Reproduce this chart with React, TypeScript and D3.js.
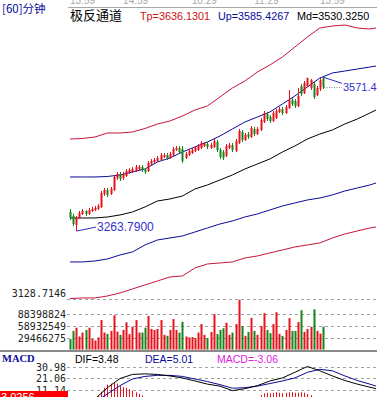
import React from "react";
import * as d3 from "d3";

const W = 377;
const H = 397;

const timeLabels = ["13:59", "14:59", "10:29", "11:29", "13:59"];
const timeLabelIdx = [0, 17, 39, 59, 80];

const opens = [3302,3294,3276,3290,3298,3304,3298,3304,3306,3308,3312,3338,3346,3338,3346,3370,3378,3370,3374,3382,3382,3384,3388,3392,3386,3384,3398,3402,3404,3406,3412,3416,3410,3416,3426,3430,3428,3410,3416,3420,3424,3426,3430,3434,3438,3430,3432,3442,3426,3422,3414,3430,3436,3424,3440,3462,3446,3458,3452,3468,3458,3466,3482,3498,3492,3484,3490,3502,3508,3500,3510,3526,3524,3514,3554,3540,3554,3550,3558,3536,3548,3570];
const closes = [3290,3278,3290,3300,3304,3298,3306,3308,3310,3314,3340,3346,3336,3348,3372,3378,3368,3378,3384,3386,3388,3392,3392,3386,3382,3400,3404,3406,3410,3416,3416,3410,3418,3428,3430,3422,3404,3418,3424,3426,3430,3434,3440,3438,3432,3436,3444,3426,3412,3410,3434,3436,3426,3444,3464,3446,3456,3452,3470,3458,3468,3486,3500,3488,3484,3500,3504,3508,3500,3512,3526,3518,3514,3534,3538,3560,3570,3566,3532,3550,3566,3552];
const highs = [3308,3298,3294,3304,3308,3306,3310,3312,3314,3318,3344,3350,3350,3352,3376,3382,3382,3382,3388,3390,3392,3396,3396,3396,3390,3404,3408,3410,3414,3420,3420,3420,3422,3432,3434,3434,3434,3422,3428,3430,3434,3438,3444,3442,3442,3440,3448,3446,3430,3426,3438,3440,3440,3448,3468,3466,3460,3462,3474,3472,3472,3490,3504,3502,3496,3504,3508,3512,3512,3516,3546,3530,3528,3550,3558,3564,3571,3568,3562,3554,3570,3571.4];
const lows = [3286,3274,3263.79,3288,3296,3294,3296,3302,3304,3306,3310,3334,3332,3336,3344,3366,3364,3366,3372,3378,3380,3382,3386,3382,3378,3382,3396,3400,3402,3404,3410,3406,3408,3414,3424,3420,3400,3408,3414,3418,3422,3424,3428,3432,3428,3428,3430,3422,3408,3406,3412,3428,3422,3422,3438,3442,3444,3448,3450,3454,3456,3464,3480,3484,3480,3482,3488,3500,3496,3498,3508,3514,3510,3512,3534,3538,3552,3546,3528,3534,3544,3548];
const volumes = [26.3e6,46.7e6,54.8e6,32.7e6,42.5e6,49.1e6,54.8e6,27.0e6,22.8e6,30.2e6,73.7e6,42.5e6,39.3e6,46.7e6,85.9e6,44.9e6,36.8e6,49.1e6,68.0e6,38.6e6,57.2e6,73.7e6,42.5e6,42.5e6,54.8e6,84.2e6,51.6e6,49.1e6,51.6e6,73.7e6,36.8e6,34.4e6,49.1e6,76.1e6,49.1e6,42.5e6,69.5e6,32.7e6,30.2e6,31.2e6,28.7e6,42.5e6,63.8e6,36.8e6,28.7e6,44.2e6,88.4e6,38.6e6,49.1e6,53.3e6,67.0e6,36.8e6,42.5e6,63.8e6,124.5e6,58.9e6,34.4e6,44.2e6,79.3e6,46.7e6,36.8e6,58.9e6,90.9e6,49.1e6,41.0e6,63.8e6,93.3e6,39.3e6,34.4e6,49.1e6,78.6e6,46.7e6,46.7e6,68.8e6,98.2e6,44.2e6,51.6e6,57.2e6,100.7e6,46.7e6,40.0e6,57.2e6];

const bandIdx = [0,4,8,12,16,20,24,28,32,36,40,44,48,52,56,60,64,68,72,76,80,84,88,92,96,98];
const tpLine = [3448,3449,3452,3460,3460,3462,3469,3478,3484,3494,3506,3514,3532,3550,3564,3582,3596,3612,3632,3652,3670,3674,3676,3670,3668,3670];
const upLine = [3372,3372,3372,3373,3376,3382,3388,3402,3410,3422,3432,3442,3454,3468,3482,3492,3502,3518,3534,3552,3570,3580,3584,3588,3592,3594];
const mdLine = [3290,3290,3290,3292,3296,3302,3312,3324,3328,3334,3348,3356,3366,3376,3388,3398,3408,3422,3434,3448,3458,3466,3478,3488,3500,3506];
const dnLine = [3202,3202,3204,3208,3216,3222,3236,3246,3250,3254,3262,3270,3278,3284,3292,3298,3306,3314,3320,3326,3330,3336,3344,3350,3356,3360];
const btLine = [3128.71,3130,3130,3134,3140,3148,3156,3164,3172,3174,3190,3198,3200,3202,3210,3214,3220,3226,3232,3236,3240,3250,3258,3264,3270,3272];

const difLine = [-6.3,-2.0,3.3,12.9,20.7,24.2,24.7,24.2,22.9,21.2,18.6,15.9,14.2,10.3,12.0,14.6,18.6,21.2,26.0,31.0,27.3,22.9,19.0,15.9,13.3,12.0];
const deaLine = [-8.1,-4.6,0.6,7.6,14.6,20.3,22.5,23.4,23.4,22.5,20.3,18.1,15.5,12.4,12.9,14.2,16.4,18.6,21.2,26.0,28.6,27.3,22.9,19.0,15.9,14.2];
const macdHist = [2,2,3,3,3,4,4,4,5,5.9,9.4,12.8,15.5,16.3,17.2,16.3,14.2,13.3,12.8,11.5,10.2,8.9,7.6,6.3,5.0,3.7,2.5,1.5,0.8,0.2,-1,-2,-3,-3,-4,-4,-4,-4,-3,-3,-3,-3,-2,-2,-2,-2,-2,-3,-3,-3,-3,-2,-2,-1,-1,-1,-1,-0.5,0.5,2,4,6.5,8,8.5,8,8.5,9,8.5,8,8.5,9,9,8.5,8.5,9,8.5,7.5,6.5,4,1,-2,-3,-4,-5,-5,-6,-6,-6,-6,-6,-6,-5,-5,-5,-5,-4,-4,-4,-4];

const volTicks = ["29466275", "58932549", "88398824"];
const macdTicks = ["11.14", "21.06", "30.98"];
const priceMinLabel = "3128.7146";
const lowLabel = "3263.7900";
const highLabel = "3571.40";
const headerTp = "Tp=3636.1301";
const headerUp = "Up=3585.4267";
const headerMd = "Md=3530.3250";
const macdHeader = ["DIF=3.48", "DEA=5.01", "MACD=-3.06"];
const cursorLabel = "3.0256";

const RED = "#e8121c";
const GREEN = "#15851a";
const NAVY = "#0a0a9a";
const BAND_RED = "#c8143c";
const SANS = "'Liberation Sans', Arial, sans-serif";
const MONO = "'DejaVu Sans Mono', monospace";
const CJK = "'Noto Sans CJK SC', sans-serif";

export default function App() {
  const x = d3.scaleLinear().domain([0, 81]).range([70, 323]);
  const yP = d3.scaleLinear().domain([3128.7146, 3571.4]).range([298.6, 77.3]);
  const yV = d3.scaleLinear().domain([0, 88398824]).range([349.6, 314.2]);
  const yM = d3.scaleLinear().domain([11.14, 30.98]).range([389.7, 366.5]);

  const bandPath = (vals: number[]) =>
    d3.line<number>().x((_, k) => x(bandIdx[k])).y((v) => yP(v))(vals) || "";
  const macdPath = (vals: number[]) =>
    d3.line<number>().x((_, k) => x(bandIdx[k])).y((v) => yM(v))(vals) || "";

  const lowI = d3.minIndex(lows);
  const highI = d3.maxIndex(highs);
  const lastI = closes.length - 1;
  const px = (i: number) => Math.round(x(i));

  const volY = [29466275, 58932549, 88398824];
  const macdY = [11.14, 21.06, 30.98];

  return (
    <svg width={W} height={H} style={{ position: "absolute", left: 0, top: 0, background: "#fff" }}>
      <rect x={0} y={0} width={W} height={H} fill="#fff" />
      {/* header */}
      <text x={2} y={13} fontSize={11.5} fontFamily={CJK} fill={NAVY}>[60]分钟</text>
      {timeLabels.map((t, k) => (
        <text key={k} x={x(timeLabelIdx[k])} y={4} fontSize={10} fontFamily={SANS} fill="#a8a8a8">{t}</text>
      ))}
      <line x1={68} x2={W} y1={7.5} y2={7.5} stroke="#a8a8a8" strokeWidth={1} />
      <text x={70} y={20} fontSize={13} fontFamily={CJK} fill="#000">极反通道</text>
      <text x={140} y={20} fontSize={10.8} fontFamily={SANS} fill="#d01010">{headerTp}</text>
      <text x={218} y={20} fontSize={10.8} fontFamily={SANS} fill={NAVY}>{headerUp}</text>
      <text x={297} y={20} fontSize={10.8} fontFamily={SANS} fill="#000">{headerMd}</text>

      {/* axis labels and dashed grid */}
      <text x={66} y={297} fontSize={10} fontFamily={MONO} fill="#222" textAnchor="end">{priceMinLabel}</text>
      <line x1={67} x2={W} y1={299.5} y2={299.5} stroke="#a0a0a0" strokeDasharray="3,3" />
      {volY.map((v, k) => (
        <g key={k}>
          <line x1={67} x2={W} y1={Math.round(yV(v)) + 0.5} y2={Math.round(yV(v)) + 0.5} stroke="#a0a0a0" strokeDasharray="3,3" />
          <text x={66} y={yV(v) + 4} fontSize={10} fontFamily={MONO} fill="#222" textAnchor="end">{volTicks[k]}</text>
        </g>
      ))}

      {/* bands */}
      <path d={bandPath(btLine)} fill="none" stroke={BAND_RED} strokeWidth={1} />
      <path d={bandPath(dnLine)} fill="none" stroke={NAVY} strokeWidth={1} />
      <path d={bandPath(mdLine)} fill="none" stroke="#000" strokeWidth={1} />
      <path d={bandPath(upLine)} fill="none" stroke={NAVY} strokeWidth={1} />
      <path d={bandPath(tpLine)} fill="none" stroke={BAND_RED} strokeWidth={1} />

      {/* candles */}
      {opens.map((o, i) => {
        const c = closes[i];
        const up = c >= o;
        const col = up ? RED : GREEN;
        const cx = px(i);
        const top = Math.min(yP(o), yP(c));
        const bh = Math.max(1, Math.abs(yP(o) - yP(c)));
        return (
          <g key={i}>
            <rect x={cx} y={yP(highs[i])} width={1} height={yP(lows[i]) - yP(highs[i])} fill={col} />
            <rect x={cx - 0.5} y={top} width={2} height={bh} fill={col} />
          </g>
        );
      })}

      {/* low / high markers */}
      <line x1={px(lowI) + 0.5} y1={yP(lows[lowI])} x2={96} y2={yP(lows[lowI]) - 4} stroke="#3030c0" />
      <text x={97} y={yP(lows[lowI])} fontSize={12} fontFamily={SANS} fill="#3333cc">{lowLabel}</text>
      <line x1={px(lastI) + 1} x2={342} y1={Math.round(yP(closes[lastI])) + 0.5} y2={Math.round(yP(closes[lastI])) + 0.5} stroke="#888" strokeDasharray="1,1.5" />
      <line x1={px(highI) + 0.5} y1={yP(highs[highI])} x2={342} y2={yP(highs[highI]) + 6} stroke="#3030c0" />
      <text x={343} y={yP(closes[lastI]) + 4.5} fontSize={11} fontFamily={SANS} fill="#3333cc">{highLabel}</text>

      {/* volume bars */}
      {volumes.map((v, i) => (
        <rect key={i} x={px(i) - 0.5} y={yV(v)} width={2} height={yV(0) - yV(v)} fill={closes[i] >= opens[i] ? RED : GREEN} />
      ))}

      {/* separator */}
      <rect x={0} y={350} width={W} height={2} fill="#8a8a8a" />

      {/* MACD panel */}
      <text x={2} y={362} fontSize={10.5} fontWeight="bold" fontFamily="'Liberation Serif', serif" fill={NAVY}>MACD</text>
      <text x={75} y={363} fontSize={10.5} fontFamily={SANS} fill="#000">{macdHeader[0]}</text>
      <text x={145} y={363} fontSize={10.5} fontFamily={SANS} fill={NAVY}>{macdHeader[1]}</text>
      <text x={217} y={363} fontSize={10.5} fontFamily={SANS} fill="#e020e0">{macdHeader[2]}</text>
      {macdY.map((v, k) => (
        <g key={k}>
          <line x1={67} x2={W} y1={Math.round(yM(v)) + 0.5} y2={Math.round(yM(v)) + 0.5} stroke="#a0a0a0" strokeDasharray="3,3" />
          <text x={66} y={yM(v) + 4} fontSize={10} fontFamily={MONO} fill="#222" textAnchor="end">{macdTicks[k]}</text>
        </g>
      ))}
      <defs>
        <clipPath id="macdClip">
          <rect x={67} y={352} width={W - 67} height={H - 352} />
        </clipPath>
      </defs>
      <g clipPath="url(#macdClip)">
        {macdHist.map((v, i) => (
          <line key={i} x1={px(i) + 0.5} x2={px(i) + 0.5} y1={yM(0)} y2={yM(v)} stroke={v >= 0 ? RED : GREEN} strokeWidth={1} />
        ))}
        <path d={macdPath(deaLine)} fill="none" stroke={NAVY} strokeWidth={1} />
        <path d={macdPath(difLine)} fill="none" stroke="#000" strokeWidth={1} />
      </g>
      <rect x={0} y={391} width={68} height={6} fill="#ff0000" />
      <text x={1} y={401} fontSize={11} fontFamily={SANS} fill="#fff">{cursorLabel}</text>
    </svg>
  );
}
